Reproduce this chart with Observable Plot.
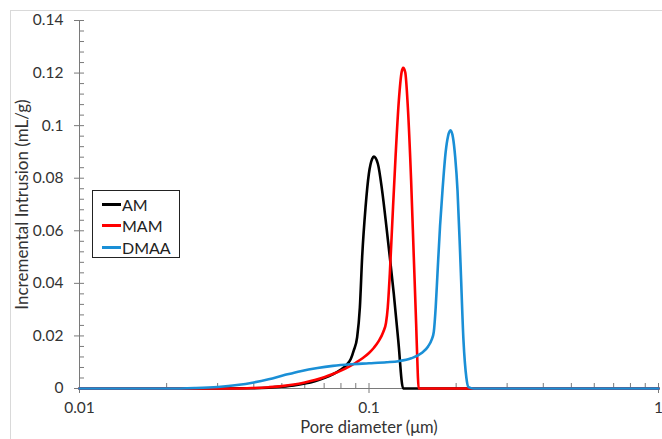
<!DOCTYPE html>
<html>
<head>
<meta charset="utf-8">
<script src="https://cdn.jsdelivr.net/npm/d3@7"></script>
<script src="https://cdn.jsdelivr.net/npm/@observablehq/plot@0.6"></script>
<style>
  html, body { margin: 0; padding: 0; background: white; }
  #wrap { position: relative; width: 662px; height: 439px; overflow: hidden; font-family: Lato, "Open Sans", sans-serif; }
  #border { position: absolute; left: 10px; top: 10px; width: 700px; height: 500px; border: 1px solid #d9d9d9; }
  #chart { position: absolute; left: 0; top: 0; }
  #legend { position: absolute; left: 92px; top: 190px; width: 86px; height: 66px; border: 1.5px solid #222; background: white; }
  .item { position: absolute; left: 9px; height: 20px; display: flex; align-items: center; font-size: 16px; color: #222; }
  .sw { width: 19px; height: 3px; margin-right: 1px; }
</style>
</head>
<body>
<div id="wrap">
  <div id="border"></div>
  <div id="chart"></div>
  <div id="legend"></div>
</div>
<script>
// ---- data ----
const seriesNames = ["AM", "MAM", "DMAA"];
const seriesColors = ["#000000", "#ff0000", "#1a8fd6"];

const amX = [0.01, 0.03, 0.04, 0.045, 0.05, 0.055, 0.06, 0.065, 0.07, 0.075, 0.08, 0.084, 0.0865, 0.0886, 0.091, 0.093, 0.0947, 0.0973, 0.0999, 0.1026, 0.1039, 0.1073, 0.111, 0.1149, 0.118, 0.1218, 0.1262, 0.1312, 0.14, 1];
const amY = [0, 0, 0.0001, 0.0003, 0.0007, 0.0012, 0.0019, 0.0028, 0.0040, 0.0054, 0.0072, 0.0092, 0.0112, 0.0145, 0.0195, 0.0309, 0.0500, 0.0690, 0.0817, 0.0874, 0.0882, 0.0855, 0.0753, 0.0614, 0.0500, 0.0360, 0.0183, 0, 0, 0];

const mamX = [0.01, 0.035, 0.04, 0.045, 0.05, 0.055, 0.06, 0.065, 0.07, 0.075, 0.08, 0.085, 0.09, 0.095, 0.1, 0.104, 0.108, 0.112, 0.1145, 0.1161, 0.118, 0.1203, 0.1235, 0.1268, 0.1296, 0.1312, 0.1334, 0.1362, 0.1398, 0.1428, 0.1455, 0.1474, 0.1484, 0.16, 1];
const mamY = [0, 0, 0.0002, 0.0005, 0.0009, 0.0015, 0.0023, 0.0032, 0.0043, 0.0055, 0.0068, 0.0082, 0.0098, 0.0115, 0.0135, 0.0155, 0.0180, 0.0215, 0.0250, 0.0309, 0.0436, 0.0627, 0.0880, 0.1096, 0.1203, 0.1220, 0.1203, 0.1070, 0.0791, 0.0500, 0.0246, 0.0056, 0, 0, 0];

const dmaaX = [0.01, 0.02, 0.025, 0.03, 0.035, 0.04, 0.045, 0.0507, 0.058, 0.0664, 0.075, 0.0863, 0.1, 0.115, 0.1265, 0.14, 0.152, 0.16, 0.1645, 0.1674, 0.1700, 0.1724, 0.176, 0.1794, 0.184, 0.1875, 0.1912, 0.195, 0.1985, 0.2022, 0.207, 0.212, 0.217, 0.2207, 0.23, 1];
const dmaaY = [0, 0, 0.0002, 0.0006, 0.0013, 0.0023, 0.0035, 0.0050, 0.0066, 0.0078, 0.0086, 0.0092, 0.0096, 0.0100, 0.0104, 0.0115, 0.0135, 0.0160, 0.0185, 0.0215, 0.0310, 0.0437, 0.0620, 0.0753, 0.0900, 0.0960, 0.0982, 0.0955, 0.0880, 0.0753, 0.0480, 0.0183, 0.0040, 0.0005, 0, 0];

const xMajor = [0.01, 0.1, 1];
const xMajorLabels = ["0.01", "0.1", "1"];
const xMinor = [0.02, 0.03, 0.04, 0.05, 0.06, 0.07, 0.08, 0.09, 0.2, 0.3, 0.4, 0.5, 0.6, 0.7, 0.8, 0.9];
const yMajor = [0, 0.02, 0.04, 0.06, 0.08, 0.1, 0.12, 0.14];
const yMajorLabels = ["0", "0.02", "0.04", "0.06", "0.08", "0.1", "0.12", "0.14"];
const yMinor = [0.004, 0.008, 0.012, 0.016, 0.024, 0.028, 0.032, 0.036, 0.044, 0.048, 0.052, 0.056, 0.064, 0.068, 0.072, 0.076, 0.084, 0.088, 0.092, 0.096, 0.104, 0.108, 0.112, 0.116, 0.124, 0.128, 0.132, 0.136];

const xTitle = "Pore diameter (μm)";
const yTitle = "Incremental Intrusion (mL/g)";

// ---- build table ----
const table = [];
[[amX, amY], [mamX, mamY], [dmaaX, dmaaY]].forEach(([xs, ys], k) => {
  xs.forEach((x, i) => table.push({series: seriesNames[k], x, y: ys[i]}));
});

const axisColor = "#7a7a7a";
const textColor = "#333333";

const chart = Plot.plot({
  width: 662,
  height: 439,
  marginLeft: 79,
  marginRight: 4,
  marginTop: 20,
  marginBottom: 51,
  style: {background: "transparent", fontFamily: "Lato, 'Open Sans', sans-serif"},
  x: {type: "log", domain: [0.01, 1], axis: null},
  y: {domain: [0, 0.14], axis: null},
  color: {domain: seriesNames, range: seriesColors},
  marks: [
    // axis lines
    Plot.ruleX([0.01], {stroke: axisColor, strokeWidth: 1}),
    Plot.ruleY([0], {stroke: axisColor, strokeWidth: 1}),
    // y ticks
    Plot.ruleY(yMajor, {y: d => d, x1: 0.01, x2: 0.01, insetLeft: -5, insetRight: -5, stroke: axisColor}),
    Plot.ruleY(yMinor, {y: d => d, x1: 0.01, x2: 0.01, insetLeft: 0, insetRight: -5, stroke: axisColor}),
    // x ticks
    Plot.ruleX(xMajor, {x: d => d, y1: 0, y2: 0, insetTop: -5, insetBottom: -5, stroke: axisColor}),
    Plot.ruleX(xMinor, {x: d => d, y1: 0, y2: 0, insetTop: -5, insetBottom: 0, stroke: axisColor}),
    // tick labels
    Plot.text(yMajor, {y: d => d, text: (d, i) => yMajorLabels[i], frameAnchor: "left", textAnchor: "end", lineAnchor: "middle", dx: -16, fontSize: 15.5, fill: textColor}),
    Plot.text(xMajor, {x: d => d, text: (d, i) => xMajorLabels[i], frameAnchor: "bottom", lineAnchor: "middle", dy: 20, fontSize: 15.5, fill: textColor}),
    // titles
    Plot.text([yTitle], {frameAnchor: "left", textAnchor: "middle", lineAnchor: "middle", rotate: -90, dx: -57, fontSize: 17, fill: textColor}),
    Plot.text([xTitle], {frameAnchor: "bottom", textAnchor: "middle", lineAnchor: "middle", dy: 39, fontSize: 16.5, fill: textColor}),
    // series
    Plot.line(table, {x: "x", y: "y", z: "series", stroke: "series", strokeWidth: 2.6, curve: "monotone-x"})
  ]
});
document.getElementById("chart").appendChild(chart);

// legend
const legend = document.getElementById("legend");
seriesNames.forEach((name, i) => {
  const item = document.createElement("div");
  item.className = "item";
  item.style.top = (3 + i * 21.5) + "px";
  const sw = document.createElement("span");
  sw.className = "sw";
  sw.style.background = seriesColors[i];
  const t = document.createElement("span");
  t.textContent = name;
  item.appendChild(sw);
  item.appendChild(t);
  legend.appendChild(item);
});
</script>
</body>
</html>
